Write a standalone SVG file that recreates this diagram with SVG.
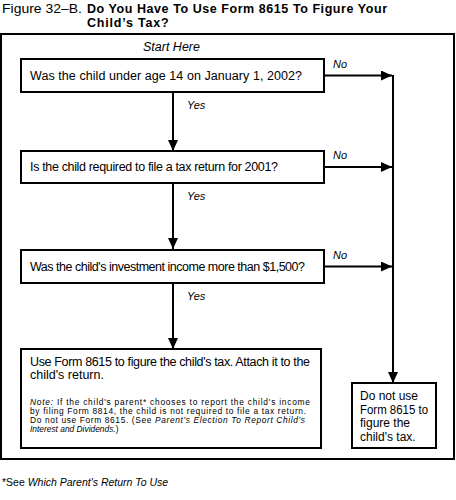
<svg xmlns="http://www.w3.org/2000/svg" width="456" height="500" viewBox="0 0 456 500">
<style>
text{font-family:"Liberation Sans",Arial,sans-serif;fill:#000}
.box{fill:#fff;stroke:#000;stroke-width:2}
.t{font-size:12.5px}
.s{font-size:12px}
.i{font-style:italic}
.lbl{font-size:11px;font-style:italic}
.n{font-size:8.4px}
.c{stroke:#000;stroke-width:2;fill:none}
</style>
<defs>
<marker id="ah" markerUnits="userSpaceOnUse" markerWidth="12" markerHeight="10" refX="11" refY="5" orient="auto">
<path d="M0,0 L11,5 L0,10 Z" fill="#000"/>
</marker>
</defs>
<rect width="456" height="500" fill="#fff"/>
<g id="title">
<text x="2" y="13" font-size="12.5" textLength="80" lengthAdjust="spacingAndGlyphs">Figure 32–B.</text>
<text x="87" y="13" font-size="12.5" font-weight="bold" textLength="300" lengthAdjust="spacing">Do You Have To Use Form 8615 To Figure Your</text>
<text x="87" y="27" font-size="12.5" font-weight="bold" letter-spacing="0.8">Child’s Tax?</text>
</g>
<rect id="frame" x="1" y="34" width="453" height="425" fill="none" stroke="#000" stroke-width="2"/>
<text id="start" x="143" y="51" class="t i">Start Here</text>
<g id="connectors">
<line class="c" x1="173" y1="92" x2="173" y2="151" marker-end="url(#ah)"/>
<line class="c" x1="173" y1="183" x2="173" y2="249" marker-end="url(#ah)"/>
<line class="c" x1="173" y1="283" x2="173" y2="349" marker-end="url(#ah)"/>
<line class="c" x1="324" y1="75.5" x2="392" y2="75.5" marker-end="url(#ah)"/>
<line class="c" x1="393" y1="75" x2="393" y2="383" marker-end="url(#ah)"/>
<line class="c" x1="324" y1="167" x2="392" y2="167" marker-end="url(#ah)"/>
<line class="c" x1="324" y1="266.5" x2="392" y2="266.5" marker-end="url(#ah)"/>
<text x="333" y="68" class="lbl">No</text>
<text x="333" y="159" class="lbl">No</text>
<text x="333" y="259" class="lbl">No</text>
<text x="187" y="109" class="lbl">Yes</text>
<text x="187" y="200" class="lbl">Yes</text>
<text x="187" y="300" class="lbl">Yes</text>
</g>
<g id="q1">
<rect class="box" x="21" y="59" width="303" height="33"/>
<text x="30" y="80" class="t" textLength="272" lengthAdjust="spacing">Was the child under age 14 on January 1, 2002?</text>
</g>
<g id="q2">
<rect class="box" x="21" y="151" width="303" height="32"/>
<text x="30" y="171" class="t" textLength="248" lengthAdjust="spacing">Is the child required to file a tax return for 2001?</text>
</g>
<g id="q3">
<rect class="box" x="21" y="250" width="303" height="33"/>
<text x="30" y="271" class="t" textLength="275" lengthAdjust="spacing">Was the child's investment income more than $1,500?</text>
</g>
<g id="yes-result">
<rect class="box" x="21" y="349" width="300" height="99"/>
<text x="30" y="366" class="t" textLength="280" lengthAdjust="spacing">Use Form 8615 to figure the child's tax. Attach it to the</text>
<text x="30" y="379" class="t">child's return.</text>
<text x="30" y="404.5" class="n" textLength="280" lengthAdjust="spacing"><tspan class="i">Note:</tspan> If the child's parent* chooses to report the child's income</text>
<text x="30" y="413.5" class="n" textLength="276" lengthAdjust="spacing">by filing Form 8814, the child is not required to file a tax return.</text>
<text x="30" y="422.5" class="n" textLength="275" lengthAdjust="spacing">Do not use Form 8615. (See <tspan class="i">Parent's Election To Report Child's</tspan></text>
<text x="30" y="431.5" class="n i">Interest and Dividends.<tspan font-style="normal">)</tspan></text>
</g>
<g id="no-result">
<rect class="box" x="352" y="383" width="84" height="65"/>
<text x="360" y="400" class="s">Do not use</text>
<text x="360" y="413.5" class="s" textLength="68" lengthAdjust="spacingAndGlyphs">Form 8615 to</text>
<text x="360" y="427" class="s">figure the</text>
<text x="360" y="441" class="s">child's tax.</text>
</g>
<text id="footnote" x="2" y="486" font-size="10.5">*See <tspan font-style="italic">Which Parent's Return To Use</tspan></text>
</svg>
